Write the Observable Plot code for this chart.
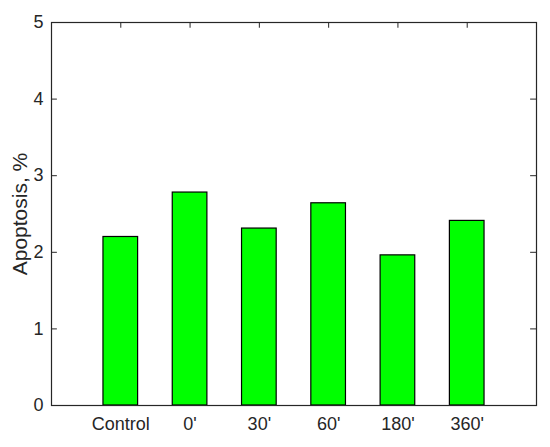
<!DOCTYPE html>
<html><head><meta charset="utf-8">
<script src="https://cdn.jsdelivr.net/npm/d3@7"></script>
<script src="https://cdn.jsdelivr.net/npm/@observablehq/plot@0.6"></script>
<style>body{margin:0;background:#fff}</style>
</head><body><div id="chart"></div>
<script>
const categories = ["Control", "0'", "30'", "60'", "180'", "360'"];
const values = [2.2, 2.78, 2.31, 2.64, 1.96, 2.41];
const yTicks = [0, 1, 2, 3, 4, 5];

const data = categories.map((c, i) => ({cat: c, pos: i + 1, value: values[i]}));
const xTicks = data.map(d => d.pos);
const barHalf = 0.25;
const ink = "#262626";
const tickLenX = 0.085; // inward tick length in x units
const tickLenY = 0.075; // inward tick length in y units

const chart = Plot.plot({
  width: 550, height: 447,
  marginLeft: 51, marginRight: 14, marginTop: 22, marginBottom: 42,
  style: {fontFamily: "'Liberation Sans', Arial, sans-serif", fontSize: "18px", color: ink, background: "#fff"},
  x: {domain: [0, 7]},
  y: {domain: [0, 5]},
  marks: [
    Plot.rectY(data, {x1: d => d.pos - barHalf, x2: d => d.pos + barHalf, y1: 0, y2: "value", fill: "#00ff00", stroke: "#000", strokeWidth: 1.2}),
    Plot.ruleY(yTicks, {y: d => d, x1: 0, x2: tickLenX, stroke: ink}),
    Plot.ruleY(yTicks, {y: d => d, x1: 7 - tickLenX, x2: 7, stroke: ink}),
    Plot.ruleX(xTicks, {x: d => d, y1: 5 - tickLenY, y2: 5, stroke: ink}),
    Plot.axisY(yTicks, {anchor: "left", tickSize: 0, tickPadding: 8, tickFormat: d3.format("d"), label: null, fontSize: 18}),
    Plot.axisY({anchor: "left", ticks: [], label: "Apoptosis, %", labelAnchor: "center", labelArrow: "none", labelOffset: 39, fontSize: 21, dy: 5}),
    Plot.axisX(xTicks, {anchor: "bottom", tickSize: 0, tickPadding: 12, tickFormat: d => categories[d - 1], label: null, fontSize: 18}),
    Plot.frame({stroke: ink, strokeWidth: 1.2})
  ]
});
document.getElementById("chart").append(chart);
</script></body></html>
